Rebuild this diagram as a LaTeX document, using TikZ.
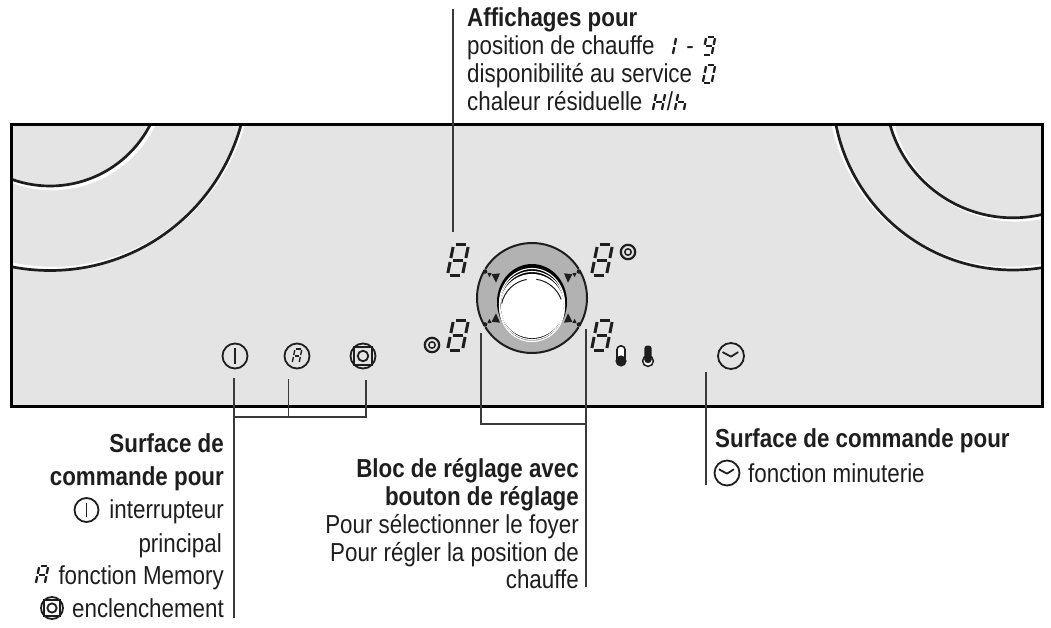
\documentclass[tikz,border=0pt]{standalone}
\usepackage{fontspec}
\setmainfont[FakeStretch=0.86]{Liberation Sans}
\definecolor{panelgray}{HTML}{E4E4E4}
\definecolor{ringgray}{HTML}{B2B2B2}
\definecolor{inkc}{HTML}{1E1E1E}
\definecolor{leader}{HTML}{3A3A3A}
\tikzset{
  hob/.style={draw=inkc,line width=2.7pt},
  hobglow/.style={draw=white,line width=3.5pt},
  leaderline/.style={draw=leader,line width=1.2pt},
  icon/.style={draw=inkc,line width=1.8pt},
  reg/.style={inner sep=0pt,text=inkc,font=\fontsize{26}{26}\selectfont},
  boldtxt/.style={reg,font=\fontsize{26}{26}\selectfont\bfseries},
  seg/.style={draw=inkc,line width=3pt},
  lab w/.style={anchor=base west},
  lab e/.style={anchor=base east}
}
\newcommand\sega{\draw[seg](-5,-15)--(5,-15);}
\newcommand\segb{\draw[seg](7.5,-13)--(7.5,-2);}
\newcommand\segc{\draw[seg](7.5,2)--(7.5,13);}
\newcommand\segd{\draw[seg](-5,15)--(5,15);}
\newcommand\sege{\draw[seg](-7.5,2)--(-7.5,13);}
\newcommand\segf{\draw[seg](-7.5,-13)--(-7.5,-2);}
\newcommand\segg{\draw[seg](-5,0)--(5,0);}
\newcommand\sevenseg[4]{\begin{scope}[shift={(#1,#2)},scale=#3,xslant=0.2,seg/.append style={line width=#3*3pt}]
 \foreach \s in {#4}{\csname seg\s\endcsname}\end{scope}}
\newcommand\smallseg[3]{\begin{scope}[shift={(#1,#2)},scale=.6,xslant=0.2,seg/.append style={line width=2.3pt}]
 \foreach \s in {#3}{\csname seg\s\endcsname}\end{scope}}
\newcommand\concicon[2]{\draw[icon,line width=2.2pt](#1,#2) circle[radius=7.2];\draw[icon,line width=1.5pt](#1,#2) circle[radius=3.2];}
\newcommand\clockicon[3]{\draw[icon](#1,#2) circle[radius=#3];
 \draw[icon,line join=round](#1-#3*.65,#2-#3*.3)--(#1,#2+#3*.05)--(#1+#3*.55,#2-#3*.3);}
\newcommand\onicon[3]{\draw[icon](#1,#2) circle[radius=#3];\draw[icon](#1,#2-#3*.62)--(#1,#2+#3*.62);}
\newcommand\targeticon[3]{\draw[icon](#1,#2) circle[radius=#3];
 \draw[icon](#1-#3*.72,#2-#3*.72) rectangle (#1+#3*.72,#2+#3*.72);
 \draw[icon](#1,#2) circle[radius=#3*.42];}
\begin{document}
\begin{tikzpicture}[x=1pt,y=-1pt]
\useasboundingbox (0,0) rectangle (1051,628);
\fill[white](0,0) rectangle (1051,628);
% panel
\coordinate (pnw) at (11,125); \coordinate (pse) at (1042,406);
\fill[panelgray](pnw) rectangle (pse);
\begin{scope}
\clip (pnw) rectangle (pse);
\draw[hobglow](52.5,70.5) circle[radius=198];
\draw[hobglow](52,75.5) circle[radius=113];
\draw[hob](50,72.5) circle[radius=198];
\draw[hob](50,73.5) circle[radius=112.5];
\draw[hobglow](1010.5,87.5) circle[radius=181];
\draw[hobglow](1016,92) circle[radius=127.8];
\draw[hob](1013,89.5) circle[radius=180.5];
\draw[hob](1013,90) circle[radius=127.8];
\end{scope}
\draw[draw=black,line width=3pt](pnw) rectangle (pse);
% knob
\fill[ringgray](532,298) circle[radius=55];
\foreach \a/\b in {30/150,150/210,210/330,330/390}{
 \draw[inkc,line width=2pt] ([shift={(\a+2:55)}]532,298) arc[start angle=\a+2,end angle=\b-2,radius=55];}
\fill[black](532,302) ellipse[x radius=35,y radius=38];
\draw[white,line width=1.1pt](532,303) ellipse[x radius=32.5,y radius=34.5];
\draw[white,line width=1.1pt](532,305.5) ellipse[x radius=32.5,y radius=34];
\draw[white,line width=1.1pt](532,308) ellipse[x radius=32.3,y radius=33.5];
\fill[white](532.3,306) circle[radius=31.5];
\draw[inkc,line width=1pt] ([shift={(-168:31)}]532,310) arc[start angle=-168,end angle=-100,radius=31];
\draw[inkc,line width=1pt] ([shift={(-82:31)}]532,310) arc[start angle=-82,end angle=-20,radius=31];
\foreach \sx/\sy in {-1/-1,1/-1,-1/1,1/1}{
 \fill[inkc](532+\sx*47,298+\sy*26.5) circle[radius=2.3];
 \fill[inkc](532+\sx*44.7,298+\sy*25.3)--(532+\sx*40.3,298+\sy*24.7)--(532+\sx*42.7,298+\sy*20.8)--cycle;
 \fill[inkc](532+\sx*40.3,298+\sy*23.7)--(532+\sx*32,298+\sy*24.7)--(532+\sx*36,298+\sy*15.3)--cycle;
}
% display digits
\sevenseg{458}{260}{1}{a,b,c,d,e,f,g}
\sevenseg{602}{260}{1}{a,b,c,d,e,f,g}
\sevenseg{458}{335}{1}{a,b,c,d,e,f,g}
\sevenseg{602}{335}{1}{a,b,c,d,e,f,g}
\concicon{628}{252}
\concicon{432}{345}
% thermometers
\draw[inkc,line width=1.6pt,fill=white,rounded corners=3.5pt](617,362)--(617,346)--(625,346)--(625,362)--cycle;
\fill[inkc](621,361) circle[radius=5.6];
\draw[inkc,line width=1.5pt,fill=white](648,361) circle[radius=5.4];
\fill[inkc,rounded corners=3pt](644.3,362)--(644.3,345.5)--(651.7,345.5)--(651.7,362)--cycle;
\fill[inkc](648,359.5) circle[radius=3.7];
% icons
\onicon{235}{356}{12.5}
\draw[icon](297,356) circle[radius=12.5];
\sevenseg{297}{356}{.46}{a,b,c,e,f,g}
\targeticon{363}{356}{12.5}
\clockicon{731}{356}{13}
% leaders
\coordinate (ta) at (453,9); \coordinate (tb) at (453,232);
\draw[leaderline](ta)--(tb);
\coordinate (la) at (234,378); \coordinate (lb) at (234,618);
\coordinate (ma) at (288.5,379); \coordinate (mb) at (288.5,417);
\coordinate (ra) at (366,380); \coordinate (rb) at (366,417);
\draw[leaderline](la)--(lb);
\draw[leaderline](ma)--(mb);
\draw[leaderline](ra)--(rb)--(rb-|la);
\coordinate (ka) at (481,333); \coordinate (kb) at (481,424);
\coordinate (kc) at (586,329); \coordinate (kd) at (586,587);
\draw[leaderline](ka)--(kb)--(kb-|kc);
\draw[leaderline](kc)--(kd);
\coordinate (ca) at (706,372); \coordinate (cb) at (706,485);
\draw[leaderline](ca)--(cb);
% top text
\node[boldtxt,lab w] (t1) at (467,27) {Affichages pour};
\node[reg,lab w] (t2) at (467,55) {position de chauffe};
\smallseg{670}{46}{b,c}
\node[reg,anchor=base] (t2b) at (690,55) {-};
\smallseg{709}{46}{a,b,c,d,f,g}
\node[reg,lab w] (t3) at (467,83) {disponibilité au service};
\smallseg{709}{74}{a,b,c,d,e,f}
\node[reg,lab w] (t4) at (467,111) {chaleur résiduelle};
\smallseg{659}{102}{b,c,e,f,g}
\node[reg,anchor=base] (t4b) at (670,111) {/};
\smallseg{681}{102}{c,e,f,g}
% bottom-left
\node[boldtxt,lab e] (l1) at (224,452) {Surface de};
\node[boldtxt,lab e] (l2) at (224,485) {commande pour};
\onicon{86.5}{510}{12}
\node[reg,lab e] (l3) at (224,518) {interrupteur};
\node[reg,lab e] (l4) at (222,552) {principal};
\smallseg{42}{575}{a,b,c,e,f,g}
\node[reg,lab e] (l5) at (224,584) {fonction Memory};
\targeticon{52}{608}{11}
\node[reg,lab e] (l6) at (224,617) {enclenchement};
% middle
\node[boldtxt,lab e] (m1) at (579,477) {Bloc de réglage avec};
\node[boldtxt,lab e] (m2) at (579,505) {bouton de réglage};
\node[reg,lab e] (m3) at (579,533) {Pour sélectionner le foyer};
\node[reg,lab e] (m4) at (579,561) {Pour régler la position de};
\node[reg,lab e] (m5) at (579,588) {chauffe};
% right
\node[boldtxt,lab w] (r1) at (715,447) {Surface de commande pour};
\clockicon{727}{473}{12.5}
\node[reg,lab w] (r2) at (748,482) {fonction minuterie};
\end{tikzpicture}
\end{document}
